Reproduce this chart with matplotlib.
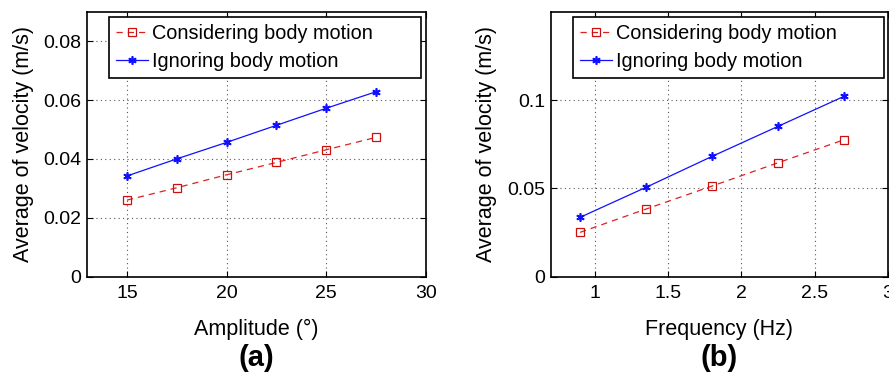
import numpy as np
from matplotlib import pyplot as plt

plt.rcParams['font.family'] = ['Liberation Sans', 'DejaVu Sans']

# panel (a): amplitude
amp = [15, 17.5, 20, 22.5, 25, 27.5]
amp_body = [0.026, 0.0302, 0.0346, 0.0388, 0.0431, 0.0473]
amp_nobody = [0.0342, 0.0400, 0.0456, 0.0514, 0.0572, 0.0628]

# panel (b): frequency
freq = [0.9, 1.35, 1.8, 2.25, 2.7]
freq_body = [0.0251, 0.0383, 0.0513, 0.0645, 0.0775]
freq_nobody = [0.0336, 0.0506, 0.0681, 0.0851, 0.1021]

lab_body = 'Considering body motion'
lab_nobody = 'Ignoring body motion'

fig = plt.figure(figsize=(8.89, 3.76), dpi=100)
ax1 = fig.add_axes([0.0979, 0.2641, 0.381, 0.7048])
ax2 = fig.add_axes([0.6195, 0.2641, 0.3794, 0.7048])

def draw(ax, x, yb, yn, xlim, ylim, xticks, yticks, xlabel, tag):
    ax.plot(x, yb, '--', color='#e02020', lw=0.9, dashes=(5, 4),
            marker='s', ms=5.5, mfc='none', mec='#cc1010', mew=0.9, label=lab_body)
    ax.plot(x, yn, '-', color='#1010ff', lw=0.9,
            marker=(6, 2, 0), ms=6, mec='#1010ff', mew=1.2, label=lab_nobody)
    ax.set_xlim(xlim)
    ax.set_ylim(ylim)
    ax.set_xticks(xticks)
    ax.set_yticks(yticks)
    ax.set_xticklabels([('%g' % t) for t in xticks])
    ax.set_yticklabels([('%g' % t) for t in yticks])
    ax.grid(True, color='#555555', linestyle=(0, (1, 3)), lw=0.8)
    ax.tick_params(direction='in', top=True, right=True, labelsize=14, length=4)
    ax.tick_params(axis='x', pad=6)
    ax.tick_params(axis='y', pad=4)
    for s in ax.spines.values():
        s.set_linewidth(1.2)
    ax.set_xlabel(xlabel, fontsize=15.5, labelpad=12)
    ax.set_ylabel('Average of velocity (m/s)', fontsize=15.5, labelpad=7)
    # matlab-style legend box: wide, text left aligned
    leg = ax.legend(loc='upper left', bbox_to_anchor=(0.066, 0, 0.921, 0.981),
                    mode='expand', fontsize=14.3, fancybox=False, framealpha=1,
                    edgecolor='black', borderaxespad=0, handlelength=1.6,
                    handletextpad=0.2, borderpad=0.35, labelspacing=0.45)
    leg.get_frame().set_linewidth(1.2)
    bb = ax.get_position()
    fig.text((bb.x0 + bb.x1) / 2, 0.047, tag, ha='center', va='center',
             fontsize=21, fontweight='bold')

draw(ax1, amp, amp_body, amp_nobody, (13, 30), (0, 0.09),
     [15, 20, 25, 30], [0, 0.02, 0.04, 0.06, 0.08], 'Amplitude (°)', '(a)')
draw(ax2, freq, freq_body, freq_nobody, (0.7, 3), (0, 0.15),
     [1, 1.5, 2, 2.5, 3], [0, 0.05, 0.1], 'Frequency (Hz)', '(b)')

fig.savefig('out.png', dpi=100)
